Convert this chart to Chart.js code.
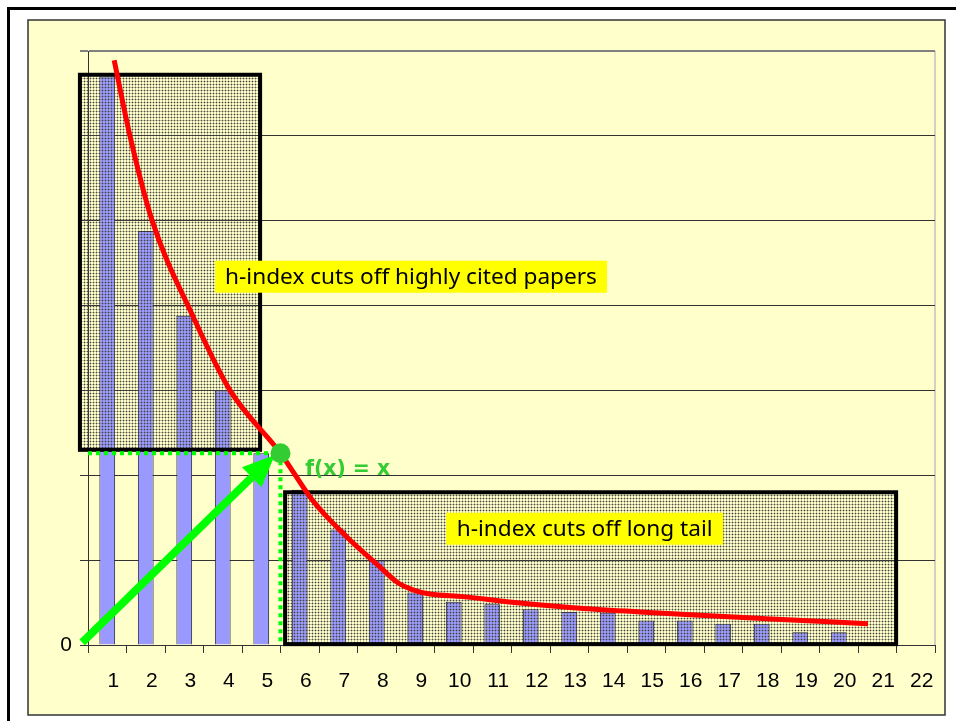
<!DOCTYPE html>
<html>
<head>
<meta charset="utf-8">
<title>h-index</title>
<script src="https://cdn.jsdelivr.net/npm/chart.js@4.4.1/dist/chart.umd.min.js"></script>
<style>
  html, body { margin: 0; padding: 0; background: #fff; }
  #wrap { width: 956px; height: 721px; position: relative; }
</style>
</head>
<body>
<div id="wrap"><canvas id="hChart" width="956" height="721"></canvas></div>
<script>
// Paper rank (x categories)
const categories = ['1', '2', '3', '4', '5', '6', '7', '8', '9', '10', '11',
                    '12', '13', '14', '15', '16', '17', '18', '19', '20', '21', '22'];

// Citations per paper (bars)
const citations = [67, 48.8, 38.8, 30.0, 22.6, 18.3, 13.6, 10.0, 6.2, 5.1,
                   4.8, 4.2, 3.9, 3.8, 2.9, 2.9, 2.5, 2.5, 1.5, 1.5];

// Red fitted curve (x in category units from the left edge of the axis)
const curveX = [0.68, 1.09, 1.66, 2.73, 3.69, 5.0, 5.84, 6.73,
                7.58, 8.03, 8.44, 8.88, 9.74, 10.88, 12.6, 14.34, 15.9, 17.6, 20.26];
const curveY = [68.9, 60.0, 50.1, 38.7, 30.0, 22.6, 17.0, 12.7,
                9.2, 7.4, 6.5, 6.0, 5.7, 5.1, 4.4, 3.9, 3.5, 3.1, 2.5];

// Value axis
const yMin = 0;
const yMax = 70;
const yStep = 10;

// Annotations (data units: x in category units, y in axis units)
const hPoint = { x: 5.0, y: 22.6 };
const upperBox = { x0: -0.21, x1: 4.47, y0: 67.2, y1: 23.0 };
const lowerBox = { x0: 5.12, x1: 20.99, y0: 18.0, y1: 0.1 };
const upperTag = { text: 'h-index cuts off highly cited papers', x: 8.39, y: 43.4, w: 392, h: 32, textW: 372 };
const lowerTag = { text: 'h-index cuts off long tail', x: 12.9, y: 13.7, w: 277, h: 32, textW: 256 };
const fxLabel = { text: 'f(x) = x', x: 5.64, y: 20.7, textW: 85 };
const arrowFrom = { x: -0.15, y: 0.3 };
const arrowTo = { x: 4.85, y: 22.4 };

const colors = {
    page: '#FFFFCC',
    bar: '#9999FF',
    barEdge: '#222244',
    curve: '#FF0000',
    green: '#00FF00',
    greenDot: '#33CC33',
    tag: '#FFFF00',
    grid: '#333333'
};

const toPx = (chart, x, y) => ({
    x: chart.scales.x2.getPixelForValue(x),
    y: chart.scales.y.getPixelForValue(y)
});

function makeHatch(ctx) {
    const c = document.createElement('canvas');
    c.width = 3; c.height = 3;
    const g = c.getContext('2d');
    g.fillStyle = 'rgba(90,90,80,0.4)';
    g.fillRect(0, 0, 3, 1);
    g.fillRect(0, 0, 1, 3);
    g.fillStyle = 'rgba(40,40,40,0.7)';
    g.fillRect(0, 0, 1, 1);
    return ctx.createPattern(c, 'repeat');
}

function fitFont(ctx, text, weight, family, maxSize, targetW) {
    ctx.font = `${weight} 20px ${family}`;
    const w = ctx.measureText(text).width;
    const size = Math.min(maxSize, 20 * targetW / w);
    ctx.font = `${weight} ${size}px ${family}`;
    return size;
}

function drawBox(ctx, chart, box, hatch) {
    const a = toPx(chart, box.x0, box.y0);
    const b = toPx(chart, box.x1, box.y1);
    ctx.save();
    ctx.fillStyle = hatch;
    ctx.fillRect(a.x, a.y, b.x - a.x, b.y - a.y);
    ctx.lineWidth = 4;
    ctx.strokeStyle = '#000';
    ctx.strokeRect(a.x, a.y, b.x - a.x, b.y - a.y);
    ctx.restore();
}

function drawTag(ctx, chart, tag) {
    const p = toPx(chart, tag.x, tag.y);
    ctx.save();
    ctx.fillStyle = colors.tag;
    ctx.fillRect(p.x - tag.w / 2, p.y - tag.h / 2, tag.w, tag.h);
    fitFont(ctx, tag.text, 'normal', '"Noto Sans", "DejaVu Sans", sans-serif', 23, tag.textW);
    ctx.fillStyle = '#000';
    ctx.textAlign = 'center';
    ctx.textBaseline = 'middle';
    ctx.fillText(tag.text, p.x, p.y + 1);
    ctx.restore();
}

const decorPlugin = {
    id: 'decor',
    beforeDraw(chart) {
        const ctx = chart.ctx;
        const area = chart.chartArea;
        ctx.save();
        ctx.fillStyle = '#fff';
        ctx.fillRect(0, 0, chart.width, chart.height);
        // slide frame (top and left edges)
        ctx.fillStyle = '#000';
        ctx.fillRect(7, 7, chart.width - 7, 3);
        ctx.fillRect(7, 7, 3, chart.height - 7);
        // chart panel
        ctx.fillStyle = colors.page;
        ctx.fillRect(28, 20, 917, 695);
        ctx.strokeStyle = '#333';
        ctx.lineWidth = 1.5;
        ctx.strokeRect(28, 20, 917, 695);
        // plot area right edge
        ctx.strokeStyle = '#C0C0C0';
        ctx.lineWidth = 1.5;
        ctx.beginPath();
        ctx.moveTo(area.right, area.top);
        ctx.lineTo(area.right, area.bottom);
        ctx.stroke();
        ctx.restore();
    },
    afterDatasetDraw(chart, args) {
        if (args.meta.type !== 'bar') return;
        const ctx = chart.ctx;
        const hatch = makeHatch(ctx);
        drawBox(ctx, chart, upperBox, hatch);
        drawBox(ctx, chart, lowerBox, hatch);
    },
    afterDraw(chart) {
        const ctx = chart.ctx;
        const area = chart.chartArea;
        const h = toPx(chart, hPoint.x, hPoint.y);
        ctx.save();

        // dotted guides to the h point
        ctx.strokeStyle = colors.green;
        ctx.lineWidth = 4;
        ctx.setLineDash([4, 4]);
        ctx.beginPath();
        ctx.moveTo(area.left, h.y);
        ctx.lineTo(h.x, h.y);
        ctx.moveTo(h.x, h.y);
        ctx.lineTo(h.x, area.bottom);
        ctx.stroke();
        ctx.setLineDash([]);

        // arrow from origin
        const s = toPx(chart, arrowFrom.x, arrowFrom.y);
        const t = toPx(chart, arrowTo.x, arrowTo.y);
        const ang = Math.atan2(t.y - s.y, t.x - s.x);
        const headLen = 32, headHalf = 14;
        const bx = t.x - headLen * Math.cos(ang);
        const by = t.y - headLen * Math.sin(ang);
        ctx.strokeStyle = colors.green;
        ctx.lineWidth = 8;
        ctx.beginPath();
        ctx.moveTo(s.x, s.y);
        ctx.lineTo(bx, by);
        ctx.stroke();
        ctx.fillStyle = colors.green;
        ctx.beginPath();
        ctx.moveTo(t.x, t.y);
        ctx.lineTo(bx + headHalf * Math.sin(ang), by - headHalf * Math.cos(ang));
        ctx.lineTo(bx - headHalf * Math.sin(ang), by + headHalf * Math.cos(ang));
        ctx.closePath();
        ctx.fill();

        // h point
        ctx.fillStyle = colors.greenDot;
        ctx.beginPath();
        ctx.arc(h.x, h.y, 10, 0, Math.PI * 2);
        ctx.fill();

        // f(x) = x label
        const f = toPx(chart, fxLabel.x, fxLabel.y);
        fitFont(ctx, fxLabel.text, 'bold', '"DejaVu Sans", sans-serif', 22, fxLabel.textW);
        ctx.fillStyle = colors.greenDot;
        ctx.textAlign = 'left';
        ctx.textBaseline = 'middle';
        ctx.fillText(fxLabel.text, f.x, f.y);

        drawTag(ctx, chart, upperTag);
        drawTag(ctx, chart, lowerTag);
        ctx.restore();
    }
};

document.addEventListener('DOMContentLoaded', () => {
    if (typeof Chart === 'undefined') {
        console.error('Chart.js is not loaded');
        return;
    }
    const canvas = document.getElementById('hChart');
    const tickFont = { family: '"Liberation Sans", Arial, sans-serif', size: 21 };

    new Chart(canvas.getContext('2d'), {
        type: 'bar',
        data: {
            labels: categories,
            datasets: [
                {
                    type: 'bar',
                    label: 'Citations',
                    data: citations,
                    backgroundColor: colors.bar,
                    borderColor: colors.barEdge,
                    borderWidth: 1,
                    barPercentage: 0.41,
                    categoryPercentage: 1,
                    grouped: false,
                    xAxisID: 'x',
                    yAxisID: 'y',
                    order: 2
                },
                {
                    type: 'line',
                    label: 'Fit',
                    data: curveX.map((x, i) => ({ x: x, y: curveY[i] })),
                    xAxisID: 'x2',
                    yAxisID: 'y',
                    borderColor: colors.curve,
                    borderWidth: 5,
                    pointRadius: 0,
                    cubicInterpolationMode: 'monotone',
                    fill: false,
                    order: 1
                }
            ]
        },
        options: {
            responsive: false,
            animation: false,
            devicePixelRatio: 1,
            layout: { padding: { left: 48, top: 51, right: 21, bottom: 16 } },
            plugins: {
                legend: { display: false },
                tooltip: { enabled: false }
            },
            scales: {
                x: {
                    type: 'category',
                    offset: true,
                    grid: {
                        offset: true,
                        drawOnChartArea: false,
                        drawTicks: true,
                        tickLength: 8,
                        color: colors.grid
                    },
                    border: { display: true, color: colors.grid, width: 1 },
                    ticks: {
                        font: tickFont,
                        color: '#000',
                        padding: 16,
                        labelOffset: 6,
                        maxRotation: 0,
                        autoSkip: false
                    },
                    afterFit: scale => { scale.height = 60; }
                },
                x2: {
                    type: 'linear',
                    display: false,
                    offset: false,
                    grid: { offset: false },
                    min: 0,
                    max: categories.length
                },
                y: {
                    min: yMin,
                    max: yMax,
                    ticks: {
                        stepSize: yStep,
                        font: tickFont,
                        color: '#000',
                        padding: 8,
                        callback: v => (v === 0 ? '0' : '')
                    },
                    grid: {
                        color: c => (c.tick && c.tick.value === yMax ? '#808080' : colors.grid),
                        lineWidth: c => (c.tick && c.tick.value === yMax ? 2 : 1),
                        tickLength: 8
                    },
                    border: { display: true, color: colors.grid, width: 1 },
                    afterFit: scale => { scale.width = 40; }
                }
            }
        },
        plugins: [decorPlugin]
    });
});
</script>
</body>
</html>
